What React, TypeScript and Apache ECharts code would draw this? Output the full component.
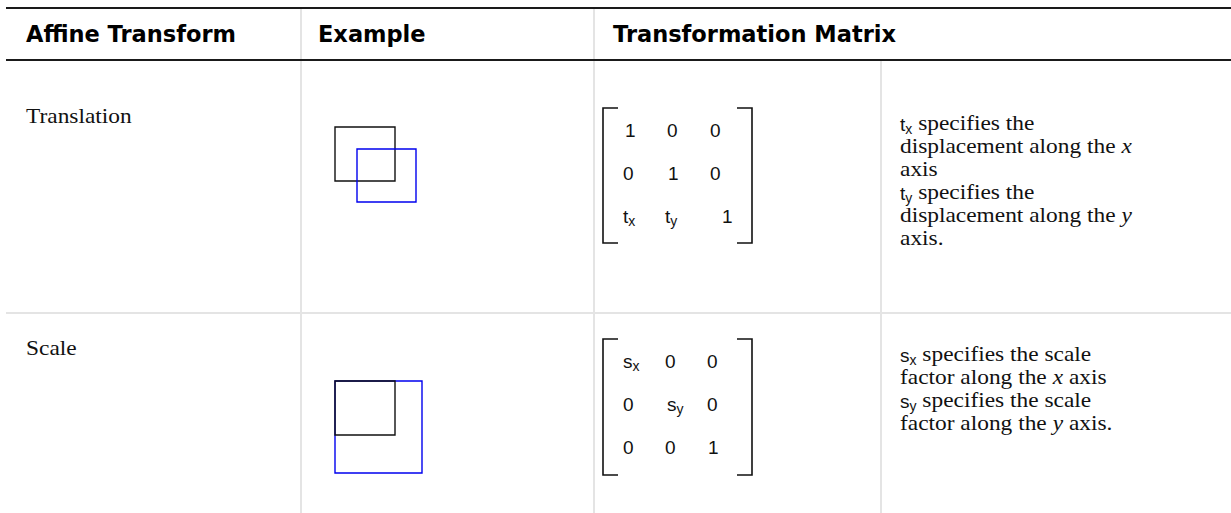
import React, { useEffect, useRef } from "react";
import * as echarts from "echarts";

// ---- table content ----
const headers = ["Affine Transform", "Example", "Transformation Matrix"];
const transformNames = ["Translation", "Scale"];
const translationMatrix = [
  ["1", "0", "0"],
  ["0", "1", "0"],
  ["t_x", "t_y", "1"],
];
const scaleMatrix = [
  ["s_x", "0", "0"],
  ["0", "s_y", "0"],
  ["0", "0", "1"],
];
const translationDescription = [
  "t_x specifies the",
  "displacement along the *x*",
  "axis",
  "t_y specifies the",
  "displacement along the *y*",
  "axis.",
];
const scaleDescription = [
  "s_x specifies the scale",
  "factor along the *x* axis",
  "s_y specifies the scale",
  "factor along the *y* axis.",
];

// ---- layout ----
const W = 1231;
const H = 513;
const LEFT = 6;
const TOP_RULE = 8;
const HEAD_RULE = 60;
const ROW_SEP = 313;
const COL_SEP = [301, 594];
const DESC_SEP = 881;
const HEAD_X = [26, 318, 613];
const NAME_X = 26;
const DESC_X = 900;
const LINE_H = 23;

type FontSpec = { family: string; size: number; style?: string; weight?: string; dy?: number; sx?: number };
const F_SERIF: FontSpec = { family: "Liberation Serif", size: 20, sx: 1.17 };
const F_ITAL: FontSpec = { family: "Liberation Serif", size: 20, style: "italic", sx: 1.17 };
const F_SANS: FontSpec = { family: "Liberation Sans", size: 19 };
const F_SUB: FontSpec = { family: "Liberation Sans", size: 14, dy: 5 };
const F_HEAD: FontSpec = { family: "DejaVu Sans", size: 22.5, weight: "bold" };

const rows = [
  {
    name: transformNames[0],
    nameY: 117,
    matrix: translationMatrix,
    matRowY: [130, 173, 216],
    matColX: [
      [625, 667, 710],
      [623, 668, 710],
      [623, 665, 722],
    ],
    bracket: [108, 243],
    desc: translationDescription,
    descY: 124,
    boxes: [
      { x: 335, y: 127, w: 60, h: 54, color: "#111111" },
      { x: 357, y: 149, w: 59, h: 53, color: "#0000ee" },
    ],
  },
  {
    name: transformNames[1],
    nameY: 349,
    matrix: scaleMatrix,
    matRowY: [361, 404, 447],
    matColX: [
      [623, 665, 707],
      [623, 667, 707],
      [623, 665, 708],
    ],
    bracket: [339, 475],
    desc: scaleDescription,
    descY: 355,
    boxes: [
      { x: 335, y: 381, w: 87, h: 92, color: "#0000ee" },
      { x: 335, y: 381, w: 60, h: 54, color: "#111111" },
    ],
  },
];

let measureCtx: CanvasRenderingContext2D | null = null;
function cssFont(f: FontSpec) {
  return `${f.style || "normal"} ${f.weight || "normal"} ${f.size}px "${f.family}"`;
}
function measure(text: string, f: FontSpec): number {
  const sx = f.sx || 1;
  if (!measureCtx) measureCtx = document.createElement("canvas").getContext("2d");
  if (!measureCtx) return text.length * f.size * 0.5 * sx;
  measureCtx.font = cssFont(f);
  return measureCtx.measureText(text).width * sx;
}

type Seg = { text: string; font: FontSpec };
function parseLine(s: string, base: FontSpec): Seg[] {
  const parts = s.split(/([a-z]_[a-z]|\*[a-z]\*)/).filter((p) => p.length > 0);
  const out: Seg[] = [];
  parts.forEach((p) => {
    if (/^[a-z]_[a-z]$/.test(p)) {
      out.push({ text: p[0], font: F_SANS });
      out.push({ text: p[2], font: F_SUB });
    } else if (/^\*[a-z]\*$/.test(p)) {
      out.push({ text: p[1], font: F_ITAL });
    } else {
      out.push({ text: p, font: base });
    }
  });
  return out;
}

function textEl(text: string, x: number, y: number, f: FontSpec, fill = "#111") {
  return {
    type: "text",
    silent: true,
    x,
    y: y + (f.dy || 0),
    scaleX: f.sx || 1,
    style: {
      text,
      fontFamily: f.family,
      fontSize: f.size,
      fontStyle: f.style || "normal",
      fontWeight: f.weight || "normal",
      fill,
      align: "left",
      verticalAlign: "middle",
    },
  };
}

function layoutLine(s: string, x0: number, y: number, base: FontSpec): any[] {
  const segs = parseLine(s, base);
  const els: any[] = [];
  let x = x0;
  segs.forEach((sg) => {
    const lead = sg.text.match(/^\s*/)![0];
    const trail = sg.text.match(/\s*$/)![0];
    const core = sg.text.trim();
    x += measure(lead, sg.font);
    if (core.length) {
      els.push(textEl(core, x, y, sg.font));
      x += measure(core, sg.font);
    }
    if (trail.length && core.length) x += measure(trail, sg.font);
  });
  return els;
}

function line(x1: number, y1: number, x2: number, y2: number, stroke: string, lw: number) {
  return { type: "line", silent: true, shape: { x1, y1, x2, y2 }, style: { stroke, lineWidth: lw } };
}

function buildGraphics() {
  const g: any[] = [];
  const gray = "#e4e4e4";
  g.push(line(COL_SEP[0], TOP_RULE, COL_SEP[0], H, gray, 2));
  g.push(line(COL_SEP[1], TOP_RULE, COL_SEP[1], H, gray, 2));
  g.push(line(DESC_SEP, HEAD_RULE, DESC_SEP, H, gray, 2));
  g.push(line(LEFT, ROW_SEP, W, ROW_SEP, gray, 2));
  g.push(line(LEFT, TOP_RULE, W, TOP_RULE, "#1a1a1a", 2));
  g.push(line(LEFT, HEAD_RULE, W, HEAD_RULE, "#1a1a1a", 2));

  headers.forEach((h, i) => {
    g.push(textEl(h, HEAD_X[i], 34, F_HEAD, "#000"));
  });

  rows.forEach((row) => {
    g.push(textEl(row.name, NAME_X, row.nameY, F_SERIF));
    row.boxes.forEach((b) => {
      g.push({
        type: "rect",
        silent: true,
        shape: { x: b.x, y: b.y, width: b.w, height: b.h },
        style: { fill: "none", stroke: b.color, lineWidth: 1.4 },
      });
    });
    const [bt, bb] = row.bracket;
    g.push({
      type: "polyline",
      silent: true,
      shape: { points: [[618, bt], [603, bt], [603, bb], [618, bb]] },
      style: { stroke: "#111", lineWidth: 1.6, fill: "none" },
    });
    g.push({
      type: "polyline",
      silent: true,
      shape: { points: [[737, bt], [752, bt], [752, bb], [737, bb]] },
      style: { stroke: "#111", lineWidth: 1.6, fill: "none" },
    });
    row.matrix.forEach((mr, ri) => {
      mr.forEach((cell, ci) => {
        layoutLine(cell, row.matColX[ri][ci], row.matRowY[ri], F_SANS).forEach((e) => g.push(e));
      });
    });
    row.desc.forEach((d, di) => {
      layoutLine(d, DESC_X, row.descY + di * LINE_H, F_SERIF).forEach((e) => g.push(e));
    });
  });
  return g;
}

export default function App() {
  const ref = useRef<HTMLDivElement>(null);
  useEffect(() => {
    if (!ref.current) return;
    const chart = echarts.init(ref.current, undefined, { renderer: "svg" });
    chart.setOption({
      animation: false,
      backgroundColor: "#ffffff",
      graphic: { elements: buildGraphics() },
    });
    return () => chart.dispose();
  }, []);
  return (
    <div
      ref={ref}
      style={{ position: "fixed", left: 0, top: 0, width: W, height: H, background: "#fff" }}
    />
  );
}
